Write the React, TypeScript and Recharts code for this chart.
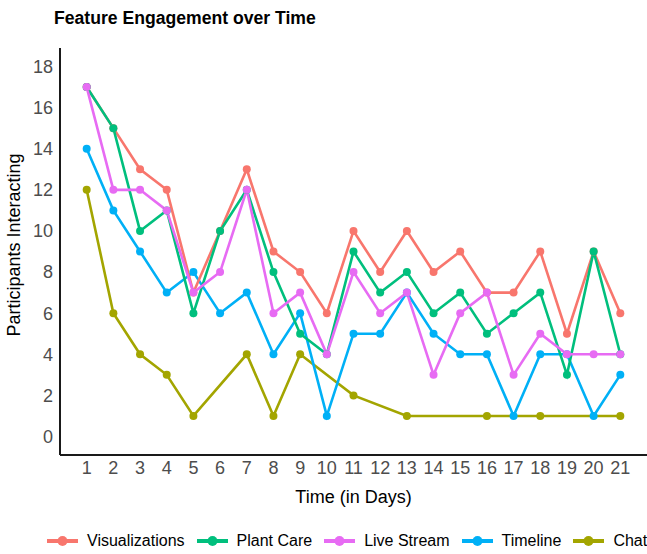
import React from 'react';
import { LineChart, Line, XAxis, YAxis, Legend, Label } from 'recharts';

const days = [1, 2, 3, 4, 5, 6, 7, 8, 9, 10, 11, 12, 13, 14, 15, 16, 17, 18, 19, 20, 21];
const visualizations = [17, 15, 13, 12, 7, 10, 13, 9, 8, 6, 10, 8, 10, 8, 9, 7, 7, 9, 5, 9, 6];
const plantCare = [17, 15, 10, 11, 6, 10, 12, 8, 5, 4, 9, 7, 8, 6, 7, 5, 6, 7, 3, 9, 4];
const liveStream = [17, 12, 12, 11, 7, 8, 12, 6, 7, 4, 8, 6, 7, 3, 6, 7, 3, 5, 4, 4, 4];
const timeline = [14, 11, 9, 7, 8, 6, 7, 4, 6, 1, 5, 5, 7, 5, 4, 4, 1, 4, 4, 1, 3];
const chat: (number | null)[] = [12, 6, 4, 3, 1, null, 4, 1, 4, null, 2, null, 1, null, null, 1, null, 1, null, null, 1];

const seriesNames = ['Visualizations', 'Plant Care', 'Live Stream', 'Timeline', 'Chat'];
const seriesColors = ['#F8766D', '#00BF7D', '#E76BF3', '#00B0F6', '#A3A500'];
const drawOrder = ['Chat', 'Timeline', 'Visualizations', 'Plant Care', 'Live Stream'];
const yTicks = [0, 2, 4, 6, 8, 10, 12, 14, 16, 18];

const data = days.map((d, i) => ({
  day: d,
  Visualizations: visualizations[i],
  'Plant Care': plantCare[i],
  'Live Stream': liveStream[i],
  Timeline: timeline[i],
  Chat: chat[i],
}));

const FONT = '"Liberation Sans", Arial, Helvetica, sans-serif';

const renderLegend = () => (
  <div
    style={{
      display: 'flex',
      alignItems: 'center',
      paddingLeft: 47,
      height: 26,
      fontFamily: FONT,
      fontSize: 16,
      color: '#000',
    }}
  >
    {seriesNames.map((n, i) => (
      <div key={n} style={{ display: 'flex', alignItems: 'center', marginRight: 12 }}>
        <svg width={31} height={16} style={{ display: 'block' }}>
          <line x1={0} y1={8} x2={31} y2={8} stroke={seriesColors[i]} strokeWidth={4} />
          <circle cx={15.5} cy={8} r={5} fill={seriesColors[i]} />
        </svg>
        <span style={{ marginLeft: 9, whiteSpace: 'nowrap' }}>{n}</span>
      </div>
    ))}
  </div>
);

const YTitle = () => (
  <text
    transform="translate(19.5, 245) rotate(-90)"
    textAnchor="middle"
    fontFamily={FONT}
    fontSize={18}
    fill="#000"
  >
    Participants Interacting
  </text>
);

export default function App() {
  return (
    <div style={{ position: 'absolute', left: 0, top: 0, width: 647, height: 554, background: '#fff' }}>
      <svg width={647} height={40} style={{ position: 'absolute', left: 0, top: 0 }}>
        <text x={54} y={24} fontFamily={FONT} fontSize={17.6} fontWeight="bold" fill="#000">
          Feature Engagement over Time
        </text>
      </svg>
      <LineChart
        width={647}
        height={554}
        data={data}
        margin={{ top: 48, right: 0, left: 0, bottom: 0 }}
      >
        <XAxis
          dataKey="day"
          type="number"
          domain={[0, 22]}
          ticks={days}
          interval={0}
          height={73}
          tickLine={false}
          tickSize={4}
          tickMargin={2}
          axisLine={{ stroke: '#1a1a1a', strokeWidth: 2 }}
          tick={{ fill: '#4D4D4D', fontSize: 18, fontFamily: FONT }}
        >
          <Label
            value="Time (in Days)"
            position="insideBottom"
            offset={25}
            style={{ fontFamily: FONT, fontSize: 18, fill: '#000' }}
          />
        </XAxis>
        <YAxis
          type="number"
          domain={[-0.9, 18.9]}
          ticks={yTicks}
          interval={0}
          width={60}
          tickLine={false}
          tickSize={5}
          tickMargin={2}
          axisLine={{ stroke: '#1a1a1a', strokeWidth: 2 }}
          tick={{ fill: '#4D4D4D', fontSize: 18, fontFamily: FONT }}
        >
          <Label content={() => <YTitle />} />
        </YAxis>
        <Legend verticalAlign="bottom" align="left" content={renderLegend} />
        {drawOrder.map((name) => {
          const c = seriesColors[seriesNames.indexOf(name)];
          return (
            <Line
              key={name}
              type="linear"
              dataKey={name}
              stroke={c}
              strokeWidth={2.6}
              dot={{ r: 4, fill: c, stroke: c, strokeWidth: 0 }}
              activeDot={false}
              connectNulls
              isAnimationActive={false}
            />
          );
        })}
      </LineChart>
    </div>
  );
}
